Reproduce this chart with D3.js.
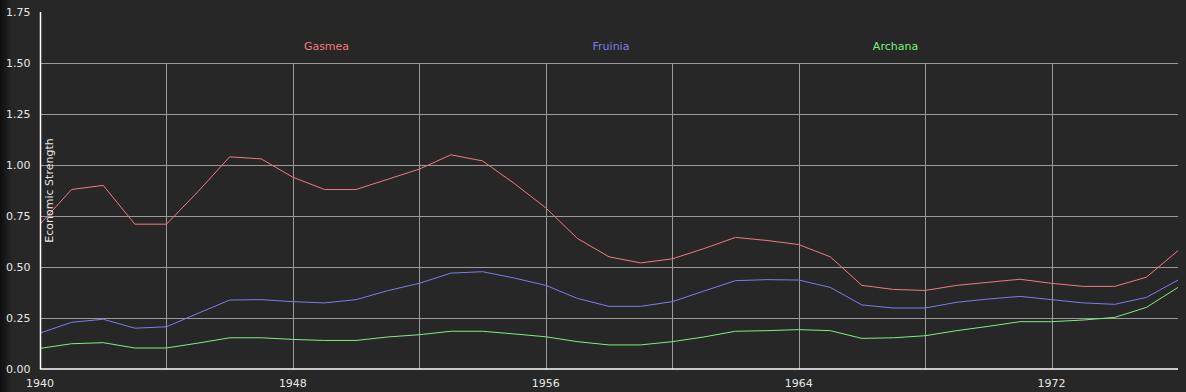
<!DOCTYPE html>
<html>
<head>
<meta charset="utf-8">
<script src="https://cdn.jsdelivr.net/npm/d3@7"></script>
<style>
  html, body { margin: 0; padding: 0; background: #272727; }
  svg { display: block; }
  text { font-family: "DejaVu Sans", Verdana, sans-serif; font-size: 11px; }
</style>
</head>
<body>
<svg id="chart" width="1186" height="392"></svg>
<script>
// yearly readings, 1940 - 1976
var years = d3.range(1940, 1977);

var gasmea = [0.71, 0.88, 0.90, 0.71, 0.71, 0.87, 1.04, 1.03, 0.94, 0.88,
              0.88, 0.93, 0.98, 1.05, 1.02, 0.91, 0.79, 0.64, 0.55, 0.52,
              0.54, 0.59, 0.645, 0.63, 0.61, 0.55, 0.41, 0.39, 0.385, 0.41,
              0.425, 0.44, 0.42, 0.405, 0.405, 0.45, 0.58];

var fruinia = [0.176, 0.229, 0.244, 0.20, 0.207, 0.273, 0.338, 0.34, 0.33, 0.324,
               0.34, 0.384, 0.42, 0.47, 0.477, 0.446, 0.41, 0.346, 0.307, 0.307,
               0.33, 0.382, 0.433, 0.438, 0.436, 0.40, 0.314, 0.299, 0.299, 0.327,
               0.343, 0.356, 0.34, 0.324, 0.317, 0.351, 0.436];

var archana = [0.101, 0.124, 0.129, 0.103, 0.103, 0.127, 0.153, 0.153, 0.145, 0.14,
               0.14, 0.157, 0.168, 0.185, 0.185, 0.172, 0.158, 0.134, 0.118, 0.118,
               0.134, 0.157, 0.185, 0.188, 0.193, 0.188, 0.15, 0.153, 0.163, 0.188,
               0.209, 0.232, 0.232, 0.24, 0.253, 0.302, 0.40];

var seriesNames = ["Gasmea", "Fruinia", "Archana"];
var seriesColors = ["#f07a7e", "#7c7cf0", "#7cf07c"];
var seriesValues = [gasmea, fruinia, archana];

var yTicks = [0, 0.25, 0.5, 0.75, 1.0, 1.25, 1.5, 1.75];
var xLabelTicks = [1940, 1948, 1956, 1964, 1972];
var xGridTicks = [1944, 1948, 1952, 1956, 1960, 1964, 1968, 1972];

var svg = d3.select("#chart");
var margin = {left: 40, right: 8, top: 12, bottom: 23};
var width = 1186 - margin.left - margin.right,
    height = 392 - margin.top - margin.bottom;

// dark shading down the left edge
var defs = svg.append("defs");
var grad = defs.append("linearGradient").attr("id", "edge");
grad.append("stop").attr("offset", "0%").attr("stop-color", "#0e0e0e");
grad.append("stop").attr("offset", "100%").attr("stop-color", "#272727");
svg.append("rect").attr("x", 0).attr("y", 0).attr("width", 12).attr("height", 392)
  .attr("fill", "url(#edge)");

var x = d3.scaleLinear().domain([1940, 1976]).range([0, width]);
var y = d3.scaleLinear().domain([0, 1.75]).range([height, 0]);

var g = svg.append("g").attr("transform", "translate(" + margin.left + "," + margin.top + ")");

// grid
g.selectAll(".hgrid").data(yTicks.filter(function(d) { return d > 0 && d < 1.75; }))
  .enter().append("line")
  .attr("x1", 0).attr("x2", width)
  .attr("y1", function(d) { return Math.round(y(d)) + 0.5; })
  .attr("y2", function(d) { return Math.round(y(d)) + 0.5; })
  .attr("stroke", "#9a9a9a").attr("stroke-width", 1);

g.selectAll(".vgrid").data(xGridTicks).enter().append("line")
  .attr("x1", function(d) { return Math.round(x(d)) + 0.5; })
  .attr("x2", function(d) { return Math.round(x(d)) + 0.5; })
  .attr("y1", y(1.5)).attr("y2", height)
  .attr("stroke", "#9a9a9a").attr("stroke-width", 1);

// lines
var line = d3.line()
  .x(function(d, i) { return x(years[i]); })
  .y(function(d) { return y(d); });

seriesValues.forEach(function(vals, k) {
  g.append("path").datum(vals)
    .attr("d", line)
    .attr("fill", "none")
    .attr("stroke", seriesColors[k])
    .attr("stroke-width", 1);
});

// axes lines
g.append("line").attr("x1", 0.5).attr("x2", 0.5).attr("y1", 0).attr("y2", height)
  .attr("stroke", "#ffffff").attr("stroke-width", 1.5);
g.append("line").attr("x1", 0).attr("x2", width).attr("y1", height).attr("y2", height)
  .attr("stroke", "#ffffff").attr("stroke-width", 1.5);

// y tick labels
svg.selectAll(".ylab").data(yTicks).enter().append("text")
  .attr("x", 6)
  .attr("y", function(d) { return margin.top + y(d) + 4; })
  .attr("fill", "#e6e6e6")
  .text(function(d) { return d.toFixed(2); });

// x tick labels
svg.selectAll(".xlab").data(xLabelTicks).enter().append("text")
  .attr("x", function(d) { return margin.left + x(d); })
  .attr("y", 387)
  .attr("text-anchor", "middle")
  .attr("fill", "#e6e6e6")
  .text(function(d) { return d; });

// y axis title
svg.append("text")
  .attr("transform", "translate(53," + (margin.top + height / 2) + ") rotate(-90)")
  .attr("text-anchor", "middle")
  .attr("fill", "#e6e6e6")
  .text("Economic Strength");

// legend
seriesNames.forEach(function(name, k) {
  svg.append("text")
    .attr("x", margin.left + width * (k + 1) / 4 + 2)
    .attr("y", 50)
    .attr("text-anchor", "middle")
    .attr("fill", seriesColors[k])
    .text(name);
});
</script>
</body>
</html>
